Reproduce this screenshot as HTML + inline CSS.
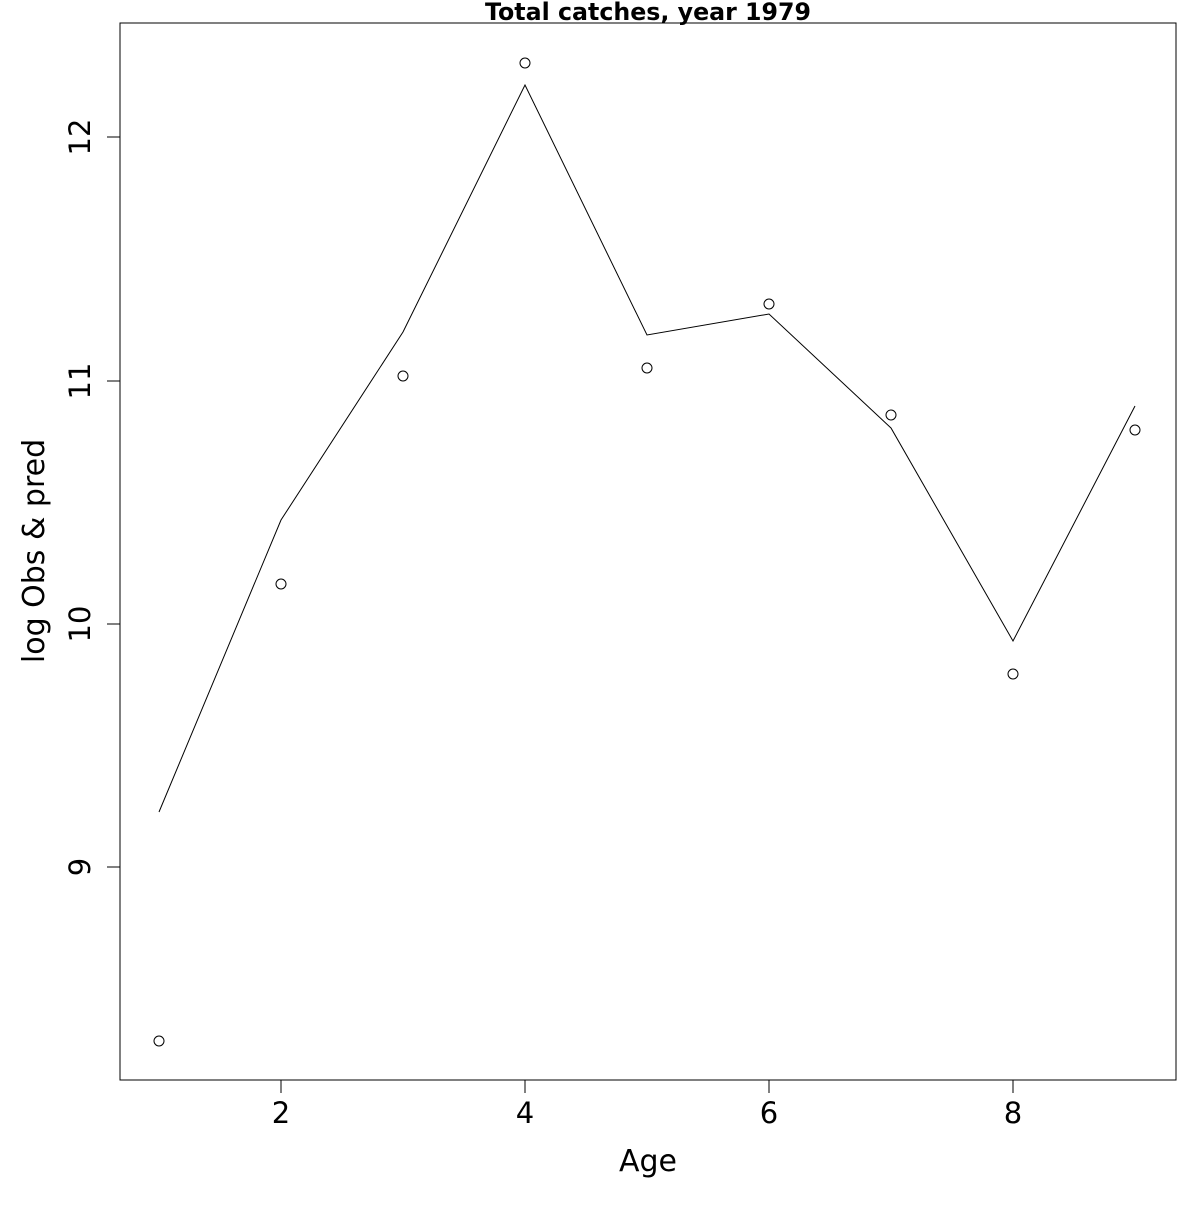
<!DOCTYPE html>
<html><head><meta charset="utf-8"><style>html,body{margin:0;padding:0;background:#fff}</style></head>
<body>
<svg width="1200" height="1200" viewBox="0 0 1200 1200" xmlns="http://www.w3.org/2000/svg" font-family="DejaVu Sans, Liberation Sans, sans-serif">
<rect x="120" y="23" width="1056" height="1057" fill="none" stroke="#000" stroke-width="1"/>
<text x="648" y="20" text-anchor="middle" font-size="23.7" font-weight="bold">Total catches, year 1979</text>
<g stroke="#000" stroke-width="1">
<line x1="281" y1="1080" x2="1013" y2="1080"/>
<line x1="281" y1="1080" x2="281" y2="1093"/><line x1="525" y1="1080" x2="525" y2="1093"/>
<line x1="769" y1="1080" x2="769" y2="1093"/><line x1="1013" y1="1080" x2="1013" y2="1093"/>
<line x1="120" y1="137" x2="120" y2="867"/>
<line x1="107" y1="137" x2="120" y2="137"/><line x1="107" y1="381" x2="120" y2="381"/>
<line x1="107" y1="624" x2="120" y2="624"/><line x1="107" y1="867" x2="120" y2="867"/>
</g>
<g font-size="29" text-anchor="middle">
<text x="281" y="1123">2</text><text x="525" y="1123">4</text><text x="769" y="1123">6</text><text x="1013" y="1123">8</text>
<text x="648" y="1171" font-size="30">Age</text>
<text transform="translate(90,137) rotate(-90)">12</text>
<text transform="translate(90,381) rotate(-90)">11</text>
<text transform="translate(90,624) rotate(-90)">10</text>
<text transform="translate(90,867) rotate(-90)">9</text>
<text transform="translate(44,551) rotate(-90)" font-size="30">log Obs &amp; pred</text>
</g>
<polyline fill="none" stroke="#000" stroke-width="1" points="159,812 281,520 403,332 525,85 647,335 769,314 891,428 1013,641 1135,406"/>
<g fill="none" stroke="#000" stroke-width="1">
<circle cx="159" cy="1041" r="5"/><circle cx="281" cy="584" r="5"/><circle cx="403" cy="376" r="5"/>
<circle cx="525" cy="63" r="5"/><circle cx="647" cy="368" r="5"/><circle cx="769" cy="304" r="5"/>
<circle cx="891" cy="415" r="5"/><circle cx="1013" cy="674" r="5"/><circle cx="1135" cy="430" r="5"/>
</g>
</svg>
</body></html>
